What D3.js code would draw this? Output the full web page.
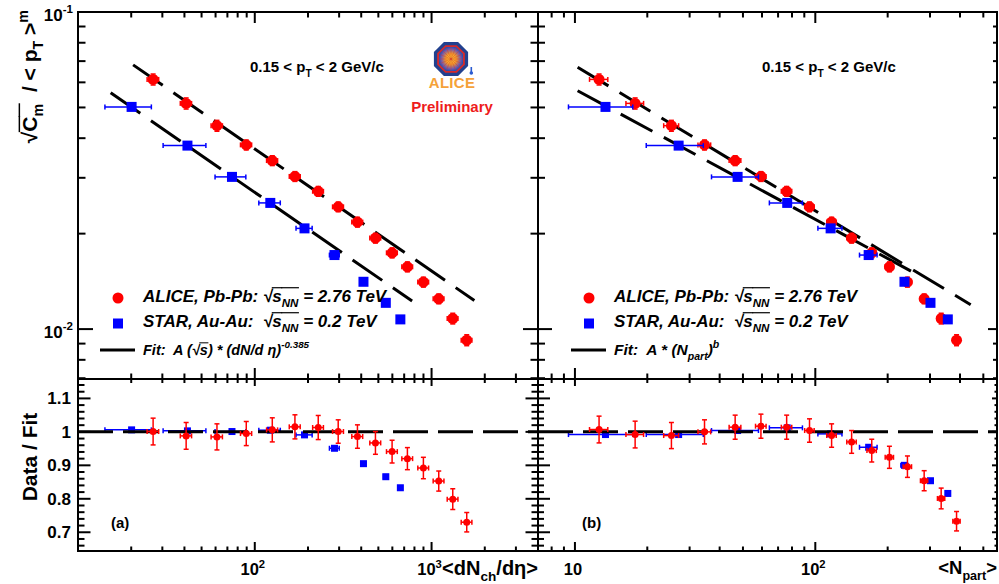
<!DOCTYPE html>
<html>
<head>
<meta charset="utf-8">
<script src="https://d3js.org/d3.v7.min.js"></script>
<style>
  body { margin: 0; background: #fff; }
  svg text { white-space: pre; }
</style>
</head>
<body>
<div id="viz"></div>
<script>
// ---- values ----
// ALICE Pb-Pb, 16 centrality classes
var aliceDndeta    = [26.6, 40.9, 61.1, 89.5, 125.6, 168.7, 228.5, 296.4, 380.8, 481.4, 598, 730, 899, 1098, 1318, 1581];
var aliceDndetaErr = [2.0, 3.0, 4.5, 6.5, 9, 12, 16, 21, 27, 34, 42, 51, 63, 77, 92, 110];
var aliceNpart     = [12.6, 17.8, 25.2, 34.6, 46.4, 59.4, 76.0, 94.6, 116.9, 141.6, 171.7, 203.4, 241.7, 283.7, 333.9, 386.9];
var aliceNpartErr  = [1.1, 1.5, 1.8, 2.1, 2.6, 3.0, 3.8, 4.3, 5.3, 6.4, 7.7, 8.1, 9.7, 9.9, 11.7, 13.5];
var aliceSigma     = [0.0613, 0.0515, 0.0438, 0.0381, 0.0340, 0.0303, 0.0272, 0.0243, 0.02175, 0.01936, 0.0174, 0.01572, 0.01407, 0.01246, 0.0108, 0.00923];
var aliceRatioA    = [1.001, 0.988, 0.985, 0.995, 1.006, 1.015, 1.013, 1.001, 0.986, 0.967, 0.941, 0.920, 0.892, 0.853, 0.799, 0.730];
var aliceRatioB    = [1.007, 0.992, 0.989, 1.000, 1.014, 1.017, 1.014, 1.004, 0.989, 0.970, 0.944, 0.924, 0.896, 0.854, 0.801, 0.733];
var aliceRatioErr  = [0.040, 0.040, 0.039, 0.036, 0.036, 0.036, 0.036, 0.035, 0.035, 0.034, 0.034, 0.033, 0.032, 0.030, 0.031, 0.029];

// STAR Au-Au
var starDndeta    = [20.1, 41.6, 74.3, 122.4, 191.1, 282.4, 411.9, 551, 666];
var starDndetaErr = [5.9, 11.3, 14.7, 17, 20, 18, 12, 16, 18];
var starNpart     = [13.4, 27.0, 47.5, 76.4, 115.8, 166.7, 234.9, 301.4, 355.8];
var starNpartErr  = [4.0, 7.2, 10.5, 12, 13.3, 14, 8, 8, 7];
var starSigma     = [0.0502, 0.0379, 0.0302, 0.0250, 0.02078, 0.01712, 0.0141, 0.0121, 0.01073];
var starRatioA    = [1.006, 1.003, 1.001, 1.005, 0.991, 0.951, 0.905, 0.866, 0.833];
var starRatioB    = [0.992, 0.992, 1.004, 1.012, 0.994, 0.954, 0.900, 0.854, 0.816];

// power-law fits  A * x^b  drawn between from..to
var fitsDndeta = [{A: 0.2179, b: -0.385, from: 20.5, to: 1746}, {A: 0.1589, b: -0.385, from: 15.3, to: 776}];
var fitsNpart  = [{A: 0.1945, b: -0.458, from: 10.26, to: 443}, {A: 0.1466, b: -0.410, from: 10.26, to: 265}];

// axis ranges
var dndetaAxis = [10, 4000];
var npartAxis  = [7.02, 570];
var sigmaAxis  = [0.00696, 0.1];
var ratioAxis  = [0.644, 1.158];

var width = 999, height = 584;
var red = "#ff0000", blue = "#0000ff";

var canvas = d3.select("#viz").append("svg")
  .attr("width", width)
  .attr("height", height)
  .style("font-family", "'Liberation Sans', Arial, Helvetica, sans-serif")
  .style("font-weight", "bold");

var leftX = [78, 538], rightX = [538, 997], topY = [12, 379], botY = [379, 551];

var xDn = d3.scaleLog().domain(dndetaAxis).range(leftX);
var xNp = d3.scaleLog().domain(npartAxis).range(rightX);
var ySig = d3.scaleLog().domain(sigmaAxis).range([topY[1], topY[0]]);
var yRat = d3.scaleLinear().domain(ratioAxis).range([botY[1], botY[0]]);

function isDecade(v) { var l = Math.log10(v); return Math.abs(l - Math.round(l)) < 1e-6; }
function isTenth(v) { return Math.abs(v * 10 - Math.round(v * 10)) < 1e-6; }

// text made of pieces: sub / sup / overline
function richText(parent, parts, size, italic) {
  var g = parent.append("g");
  var cx = 0;
  parts.forEach(function(p) {
    var small = p.sub || p.sup;
    var t = g.append("text")
      .attr("x", cx)
      .attr("y", p.sub ? size * 0.3 : (p.sup ? -size * 0.45 : 0))
      .attr("font-size", small ? size * 0.68 : size)
      .text(p.t);
    if (italic) t.attr("font-style", "italic");
    var w = t.node().getComputedTextLength();
    if (p.over) {
      g.append("line")
        .attr("x1", cx - 0.5).attr("x2", cx + w + 0.5)
        .attr("y1", -size * 0.84).attr("y2", -size * 0.84)
        .attr("stroke", "#000").attr("stroke-width", Math.max(1, size * 0.07));
    }
    cx += w;
  });
  return {g: g, width: cx};
}

// frame with ticks on all four sides
function drawFrame(x, y, xVals, yVals, xBig, yBig, len) {
  var g = canvas.append("g").attr("stroke", "#000").attr("stroke-width", 2);
  var x0 = x.range()[0], x1 = x.range()[1], yb = y.range()[0], yt = y.range()[1];
  xVals.forEach(function(v) {
    var p = x(v), big = xBig(v);
    if (p <= x0 + 0.5 || p >= x1 - 0.5) return;
    g.append("line").attr("x1", p).attr("x2", p).attr("y1", yb).attr("y2", yb - (big ? len.xb[0] : len.xb[1]));
    g.append("line").attr("x1", p).attr("x2", p).attr("y1", yt).attr("y2", yt + (big ? len.xt[0] : len.xt[1]));
  });
  yVals.forEach(function(v) {
    var p = y(v), big = yBig(v);
    if (p >= yb - 0.5 || p <= yt + 0.5) return;
    g.append("line").attr("y1", p).attr("y2", p).attr("x1", x0).attr("x2", x0 + (big ? len.yl[0] : len.yl[1]));
    g.append("line").attr("y1", p).attr("y2", p).attr("x1", x1).attr("x2", x1 - (big ? len.yr[0] : len.yr[1]));
  });
  g.append("rect")
    .attr("x", x0).attr("y", yt)
    .attr("width", x1 - x0).attr("height", yb - yt)
    .attr("fill", "none");
}

// markers with error bars
function drawSeries(x, y, xv, xe, yv, ye, shape, size, color) {
  var g = canvas.append("g");
  xv.forEach(function(v, i) {
    var cx = x(v), cy = y(yv[i]);
    var eb = g.append("g").attr("stroke", color).attr("stroke-width", 1.5);
    if (xe) {
      var a = x(v - xe[i]), b = x(v + xe[i]);
      eb.append("line").attr("x1", a).attr("x2", b).attr("y1", cy).attr("y2", cy);
      eb.append("line").attr("x1", a).attr("x2", a).attr("y1", cy - 2.5).attr("y2", cy + 2.5);
      eb.append("line").attr("x1", b).attr("x2", b).attr("y1", cy - 2.5).attr("y2", cy + 2.5);
    }
    if (ye) {
      var c = y(yv[i] - ye[i]), d = y(yv[i] + ye[i]);
      eb.append("line").attr("x1", cx).attr("x2", cx).attr("y1", c).attr("y2", d);
      eb.append("line").attr("x1", cx - 2.5).attr("x2", cx + 2.5).attr("y1", c).attr("y2", c);
      eb.append("line").attr("x1", cx - 2.5).attr("x2", cx + 2.5).attr("y1", d).attr("y2", d);
    }
    if (shape === "circle") {
      g.append("circle").attr("cx", cx).attr("cy", cy).attr("r", size).attr("fill", color);
    } else {
      g.append("rect").attr("x", cx - size).attr("y", cy - size)
        .attr("width", 2 * size).attr("height", 2 * size).attr("fill", color);
    }
  });
}

function drawFit(x, y, f) {
  var line = d3.line().x(function(d) { return x(d); }).y(function(d) { return y(f.A * Math.pow(d, f.b)); });
  canvas.append("path")
    .attr("d", line([f.from, f.to]))
    .attr("fill", "none").attr("stroke", "#000")
    .attr("stroke-width", 3).attr("stroke-dasharray", "36,13");
}

var aliceSigmaErr = aliceSigma.map(function(s, i) { return s * aliceRatioErr[i] / aliceRatioA[i]; });

// ---- top panels ----
fitsDndeta.forEach(function(f) { drawFit(xDn, ySig, f); });
fitsNpart.forEach(function(f) { drawFit(xNp, ySig, f); });

drawSeries(xDn, ySig, aliceDndeta, aliceDndetaErr, aliceSigma, aliceSigmaErr, "circle", 5.5, red);
drawSeries(xDn, ySig, starDndeta, starDndetaErr, starSigma, null, "square", 5, blue);
drawSeries(xNp, ySig, aliceNpart, aliceNpartErr, aliceSigma, aliceSigmaErr, "circle", 5.5, red);
drawSeries(xNp, ySig, starNpart, starNpartErr, starSigma, null, "square", 5, blue);

// ---- ratio panels ----
drawSeries(xDn, yRat, starDndeta, starDndetaErr, starRatioA, null, "square", 3.5, blue);
drawSeries(xNp, yRat, starNpart, starNpartErr, starRatioB, null, "square", 3.5, blue);
[leftX, rightX].forEach(function(r) {
  canvas.append("line")
    .attr("x1", r[0]).attr("x2", r[1]).attr("y1", yRat(1)).attr("y2", yRat(1))
    .attr("stroke", "#000").attr("stroke-width", 3).attr("stroke-dasharray", "35,10");
});
drawSeries(xDn, yRat, aliceDndeta, aliceDndetaErr, aliceRatioA, aliceRatioErr, "circle", 3.5, red);
drawSeries(xNp, yRat, aliceNpart, aliceNpartErr, aliceRatioB, aliceRatioErr, "circle", 3.5, red);

// ---- frames ----
var ratioTicks = yRat.ticks(25);
drawFrame(xDn, ySig, xDn.ticks(), ySig.ticks(), isDecade, isDecade,
  {xb: [11, 5.5], xt: [11, 5.5], yl: [15, 7.5], yr: [15, 7.5]});
drawFrame(xNp, ySig, xNp.ticks(), ySig.ticks(), isDecade, isDecade,
  {xb: [11, 5.5], xt: [11, 5.5], yl: [14, 7], yr: [9, 4]});
drawFrame(xDn, yRat, xDn.ticks(), ratioTicks, isDecade, isTenth,
  {xb: [9, 4.5], xt: [7, 4], yl: [12.5, 6.5], yr: [12.5, 6.5]});
drawFrame(xNp, yRat, xNp.ticks(), ratioTicks, isDecade, isTenth,
  {xb: [9, 4.5], xt: [7, 4], yl: [12, 6], yr: [5, 2.5]});

// ---- tick labels ----
ySig.ticks().filter(isDecade).forEach(function(v) {
  var lab = richText(canvas, [{t: "10"}, {t: String(Math.round(Math.log10(v))), sup: true}], 17);
  lab.g.attr("transform", "translate(" + (73 - lab.width) + "," + (ySig(v) + 9) + ")");
});
ratioTicks.filter(isTenth).forEach(function(v) {
  canvas.append("text")
    .attr("x", 71).attr("y", yRat(v) + 6)
    .attr("text-anchor", "end").attr("font-size", 17)
    .text(d3.format("")(+v.toFixed(1)));
});
function decadeLabels(x) {
  x.ticks().filter(isDecade).forEach(function(v) {
    if (x(v) < x.range()[0] + 2) return;
    var e = Math.round(Math.log10(v));
    var parts = e === 1 ? [{t: "10"}] : [{t: "10"}, {t: String(e), sup: true}];
    var lab = richText(canvas, parts, 16.5);
    lab.g.attr("transform", "translate(" + (x(v) - lab.width / 2 - 2) + ",575)");
  });
}
decadeLabels(xDn);
decadeLabels(xNp);

var xTitleL = richText(canvas, [{t: "<dN"}, {t: "ch", sub: true}, {t: "/dη>"}], 20);
xTitleL.g.attr("transform", "translate(" + (538 - xTitleL.width) + ",575)");
var xTitleR = richText(canvas, [{t: "<N"}, {t: "part", sub: true}, {t: ">"}], 18.5);
xTitleR.g.attr("transform", "translate(" + (997 - xTitleR.width) + ",574)");

// ---- axis titles ----
var yTitle = richText(canvas, [
  {t: "√"}, {t: "C", over: true}, {t: "m", sub: true, over: true},
  {t: "  / < p"}, {t: "T", sub: true}, {t: " >"}, {t: "m", sup: true}
], 21);
yTitle.g.attr("transform", "translate(37," + (10 + yTitle.width) + ") rotate(-90)");

canvas.append("text")
  .attr("transform", "translate(37,457) rotate(-90)")
  .attr("text-anchor", "middle").attr("font-size", 21)
  .text("Data / Fit");

// ---- panel annotations ----
[250, 762].forEach(function(x0) {
  var t = richText(canvas, [{t: "0.15 < p"}, {t: "T", sub: true}, {t: " < 2 GeV/c"}], 15);
  t.g.attr("transform", "translate(" + x0 + ",72)");
});
canvas.append("text").attr("x", 111).attr("y", 528).attr("font-size", 15).text("(a)");
canvas.append("text").attr("x", 582).attr("y", 528).attr("font-size", 15).text("(b)");

// ---- legends ----
function legend(x0, fitParts, fitSize) {
  canvas.append("circle").attr("cx", x0 - 25).attr("cy", 298).attr("r", 5.5).attr("fill", red);
  canvas.append("rect").attr("x", x0 - 30).attr("y", 318.5).attr("width", 10).attr("height", 10).attr("fill", blue);
  canvas.append("line").attr("x1", x0 - 43).attr("x2", x0 - 8).attr("y1", 350).attr("y2", 350)
    .attr("stroke", "#000").attr("stroke-width", 3);
  var a = richText(canvas, [{t: "ALICE, Pb-Pb: √"}, {t: "s", over: true}, {t: "NN", sub: true, over: true}, {t: " = 2.76 TeV"}], 17, true);
  a.g.attr("transform", "translate(" + x0 + ",302)");
  var s = richText(canvas, [{t: "STAR, Au-Au:  √"}, {t: "s", over: true}, {t: "NN", sub: true, over: true}, {t: " = 0.2 TeV"}], 17, true);
  s.g.attr("transform", "translate(" + x0 + ",327)");
  var f = richText(canvas, fitParts, fitSize, true);
  f.g.attr("transform", "translate(" + x0 + ",355)");
}
legend(143, [{t: "Fit:  A (√"}, {t: "s", over: true}, {t: ") * (dN/d η)"}, {t: "-0.385", sup: true}], 14.5);
legend(614, [{t: "Fit:  A * (N"}, {t: "part", sub: true}, {t: ")"}, {t: "b", sup: true}], 15.5);

// ---- ALICE logo ----
var defs = canvas.append("defs");
var grad = defs.append("radialGradient").attr("id", "core");
grad.append("stop").attr("offset", "0%").attr("stop-color", "#ffe83a");
grad.append("stop").attr("offset", "45%").attr("stop-color", "#f39a2a");
grad.append("stop").attr("offset", "80%").attr("stop-color", "#7a5aa8");
grad.append("stop").attr("offset", "100%").attr("stop-color", "#2d4fb0");
function octagon(r) {
  return d3.range(8).map(function(k) {
    var a = Math.PI / 8 + k * Math.PI / 4;
    return [r * Math.cos(a), r * Math.sin(a)];
  }).join(" ");
}
var logo = canvas.append("g").attr("transform", "translate(451,59)");
logo.append("polygon").attr("points", octagon(18.5)).attr("fill", "#22418f");
logo.append("polygon").attr("points", octagon(15)).attr("fill", "#d42a2a");
logo.append("polygon").attr("points", octagon(13)).attr("fill", "url(#core)");
d3.range(16).forEach(function(k) {
  var a = k * Math.PI / 8;
  logo.append("line")
    .attr("x1", 0).attr("y1", 0)
    .attr("x2", 11.5 * Math.cos(a)).attr("y2", 11.5 * Math.sin(a))
    .attr("stroke", "#d83a2a").attr("stroke-width", 0.6).attr("opacity", 0.7);
});
canvas.append("text").attr("x", 452).attr("y", 88).attr("text-anchor", "middle")
  .attr("font-size", 15).attr("fill", "#f5a23a").attr("letter-spacing", 0.3).text("ALICE");
canvas.append("rect").attr("x", 470.5).attr("y", 67).attr("width", 1.6).attr("height", 6).attr("fill", "#2a5ad0");
canvas.append("circle").attr("cx", 471.3).attr("cy", 73).attr("r", 1.8).attr("fill", "#2a5ad0");
canvas.append("text").attr("x", 452).attr("y", 112).attr("text-anchor", "middle")
  .attr("font-size", 15).attr("fill", "#ee1c1c").text("Preliminary");
</script>
</body>
</html>
